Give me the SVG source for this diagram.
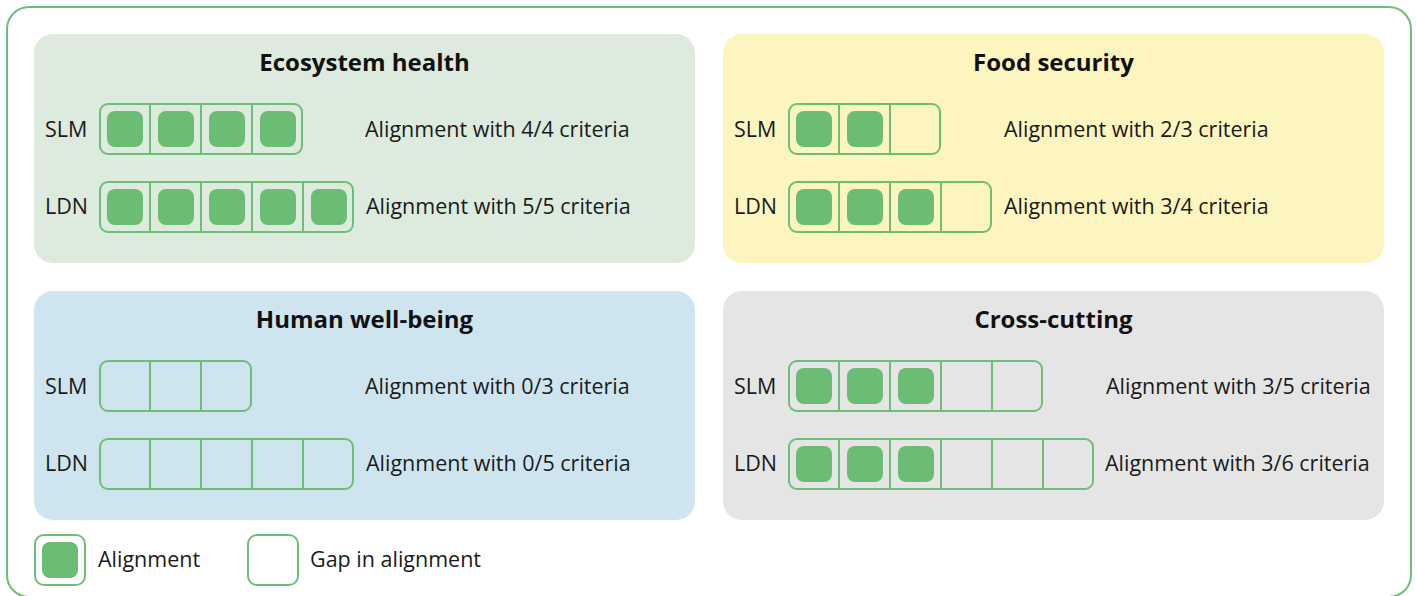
<svg xmlns="http://www.w3.org/2000/svg" width="1417" height="596" viewBox="0 0 1417 596">
  <style>
    .frame { fill: #ffffff; stroke: #6dbf75; stroke-width: 2; }
    .panel { stroke: none; }
    .bar { fill: none; stroke: #6dbf75; stroke-width: 2; }
    .div { stroke: #6dbf75; stroke-width: 2; }
    .on { fill: #6abd73; }
    .title { font-family: "Open Sans", "Noto Sans", sans-serif; font-weight: 700; font-size: 24px; fill: #111111; text-anchor: middle; }
    .lbl { font-family: "Open Sans", "Noto Sans", sans-serif; font-size: 21.5px; fill: #1a1a1a; }
  </style>
  <defs>
    <rect id="dot" width="36" height="36" rx="8" ry="8"/>
  </defs>

  <!-- outer frame -->
  <rect class="frame" x="7" y="7" width="1404" height="590" rx="22" ry="22"/>

  <!-- Ecosystem health -->
  <g id="ecosystem-health">
    <rect class="panel" x="34" y="34" width="661" height="229" rx="19" ry="19" fill="#dcebdd"/>
    <text class="title" x="364.5" y="71">Ecosystem health</text>
    <text class="lbl" x="45" y="136.5">SLM</text>
    <rect class="bar" x="100" y="104" width="202" height="50" rx="8" ry="8"/>
    <path class="div" d="M150 104V154M201 104V154M252 104V154"/>
    <use href="#dot" class="on" x="107" y="111"/>
    <use href="#dot" class="on" x="158" y="111"/>
    <use href="#dot" class="on" x="209" y="111"/>
    <use href="#dot" class="on" x="260" y="111"/>
    <text class="lbl" x="365" y="136.5">Alignment with 4/4 criteria</text>
    <text class="lbl" x="45" y="214">LDN</text>
    <rect class="bar" x="100" y="182" width="253" height="50" rx="8" ry="8"/>
    <path class="div" d="M150 182V232M201 182V232M252 182V232M303 182V232"/>
    <use href="#dot" class="on" x="107" y="189"/>
    <use href="#dot" class="on" x="158" y="189"/>
    <use href="#dot" class="on" x="209" y="189"/>
    <use href="#dot" class="on" x="260" y="189"/>
    <use href="#dot" class="on" x="311" y="189"/>
    <text class="lbl" x="366" y="214">Alignment with 5/5 criteria</text>
  </g>

  <!-- Food security -->
  <g id="food-security">
    <rect class="panel" x="723" y="34" width="661" height="229" rx="19" ry="19" fill="#fcf5c0"/>
    <text class="title" x="1053.5" y="71">Food security</text>
    <text class="lbl" x="734" y="136.5">SLM</text>
    <rect class="bar" x="789" y="104" width="151" height="50" rx="8" ry="8"/>
    <path class="div" d="M839 104V154M890 104V154"/>
    <use href="#dot" class="on" x="796" y="111"/>
    <use href="#dot" class="on" x="847" y="111"/>
    <text class="lbl" x="1004" y="136.5">Alignment with 2/3 criteria</text>
    <text class="lbl" x="734" y="214">LDN</text>
    <rect class="bar" x="789" y="182" width="202" height="50" rx="8" ry="8"/>
    <path class="div" d="M839 182V232M890 182V232M941 182V232"/>
    <use href="#dot" class="on" x="796" y="189"/>
    <use href="#dot" class="on" x="847" y="189"/>
    <use href="#dot" class="on" x="898" y="189"/>
    <text class="lbl" x="1004" y="214">Alignment with 3/4 criteria</text>
  </g>

  <!-- Human well-being -->
  <g id="human-well-being">
    <rect class="panel" x="34" y="291" width="661" height="229" rx="19" ry="19" fill="#cee5f0"/>
    <text class="title" x="364.5" y="328">Human well-being</text>
    <text class="lbl" x="45" y="393.5">SLM</text>
    <rect class="bar" x="100" y="361" width="151" height="50" rx="8" ry="8"/>
    <path class="div" d="M150 361V411M201 361V411"/>
    <text class="lbl" x="365" y="393.5">Alignment with 0/3 criteria</text>
    <text class="lbl" x="45" y="471">LDN</text>
    <rect class="bar" x="100" y="439" width="253" height="50" rx="8" ry="8"/>
    <path class="div" d="M150 439V489M201 439V489M252 439V489M303 439V489"/>
    <text class="lbl" x="366" y="471">Alignment with 0/5 criteria</text>
  </g>

  <!-- Cross-cutting -->
  <g id="cross-cutting">
    <rect class="panel" x="723" y="291" width="661" height="229" rx="19" ry="19" fill="#e5e5e5"/>
    <text class="title" x="1053.5" y="328">Cross-cutting</text>
    <text class="lbl" x="734" y="393.5">SLM</text>
    <rect class="bar" x="789" y="361" width="253" height="50" rx="8" ry="8"/>
    <path class="div" d="M839 361V411M890 361V411M941 361V411M992 361V411"/>
    <use href="#dot" class="on" x="796" y="368"/>
    <use href="#dot" class="on" x="847" y="368"/>
    <use href="#dot" class="on" x="898" y="368"/>
    <text class="lbl" x="1106" y="393.5">Alignment with 3/5 criteria</text>
    <text class="lbl" x="734" y="471">LDN</text>
    <rect class="bar" x="789" y="439" width="304" height="50" rx="8" ry="8"/>
    <path class="div" d="M839 439V489M890 439V489M941 439V489M992 439V489M1043 439V489"/>
    <use href="#dot" class="on" x="796" y="446"/>
    <use href="#dot" class="on" x="847" y="446"/>
    <use href="#dot" class="on" x="898" y="446"/>
    <text class="lbl" x="1105" y="471">Alignment with 3/6 criteria</text>
  </g>

  <!-- legend -->
  <g id="legend">
    <rect class="bar" x="35" y="535" width="50" height="50" rx="9" ry="9"/>
    <use href="#dot" class="on" x="42" y="542"/>
    <text class="lbl" x="98" y="567">Alignment</text>
    <rect class="bar" x="248" y="535" width="50" height="50" rx="9" ry="9"/>
    <text class="lbl" x="310" y="567">Gap in alignment</text>
  </g>

  <g id="connectors"/>
</svg>
